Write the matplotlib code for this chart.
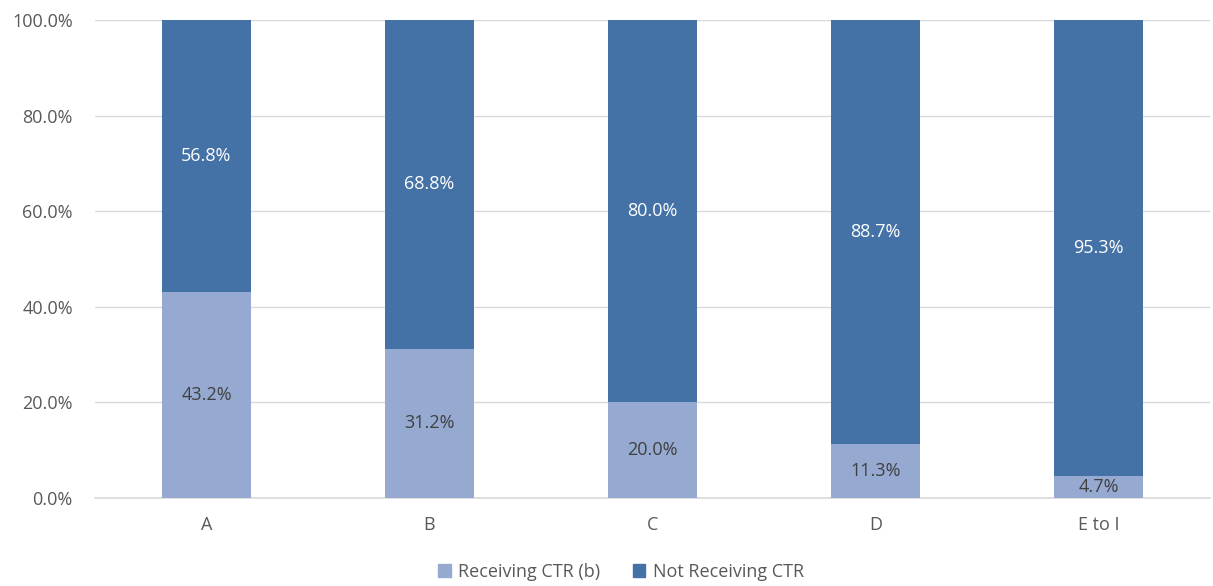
import matplotlib
matplotlib.use("Agg")
import matplotlib.pyplot as plt
from matplotlib.ticker import FuncFormatter
from matplotlib.patches import Patch

categories = ["A", "B", "C", "D", "E to I"]
receiving = [43.2, 31.2, 20.0, 11.3, 4.7]
not_receiving = [56.8, 68.8, 80.0, 88.7, 95.3]
series_names = ["Receiving CTR (b)", "Not Receiving CTR"]

light = "#95A9D1"
dark = "#4472A6"
plt.rcParams['font.family'] = ['Open Sans', 'DejaVu Sans']

fig = plt.figure(figsize=(12.13, 5.86), dpi=100)
ax = fig.add_axes([95/1213, 88/586, (1210-95)/1213, (498-20)/586])

x = list(range(len(categories)))
b1 = ax.bar(x, receiving, width=0.4, color=light, zorder=3)
b2 = ax.bar(x, not_receiving, width=0.4, bottom=receiving, color=dark, zorder=3)

for xi, r, n in zip(x, receiving, not_receiving):
    ax.text(xi, r/2, f"{r:.1f}%", ha="center", va="center", color="#404040", fontsize=13, zorder=4)
    ax.text(xi, r + n/2, f"{n:.1f}%", ha="center", va="center", color="white", fontsize=13, zorder=4)

ax.set_ylim(0, 100)
ax.set_xlim(-0.5, len(categories) - 0.5)
ax.set_yticks([0, 20, 40, 60, 80, 100])
ax.yaxis.set_major_formatter(FuncFormatter(lambda v, p: f"{v:.1f}%"))
ax.set_xticks(x)
ax.set_xticklabels(categories)
ax.tick_params(axis="both", length=0, labelsize=13, colors="#595959")
ax.tick_params(axis="x", pad=13)
ax.tick_params(axis="y", pad=16)
ax.grid(axis="y", color="#D9D9D9", linewidth=1, zorder=0)
for s in ["top", "right", "left"]:
    ax.spines[s].set_visible(False)
ax.spines["bottom"].set_color("#D9D9D9")
ax.spines["bottom"].set_linewidth(1.2)

handles = [Patch(color=light), Patch(color=dark)]
fig.legend(handles, series_names, loc="center", bbox_to_anchor=(621/1213, 1 - 572/586),
           ncol=2, frameon=False, fontsize=13, handlelength=0.7, handleheight=0.7,
           handletextpad=0.4, columnspacing=1.8, labelcolor="#595959")

fig.savefig("out.png", dpi=100)
